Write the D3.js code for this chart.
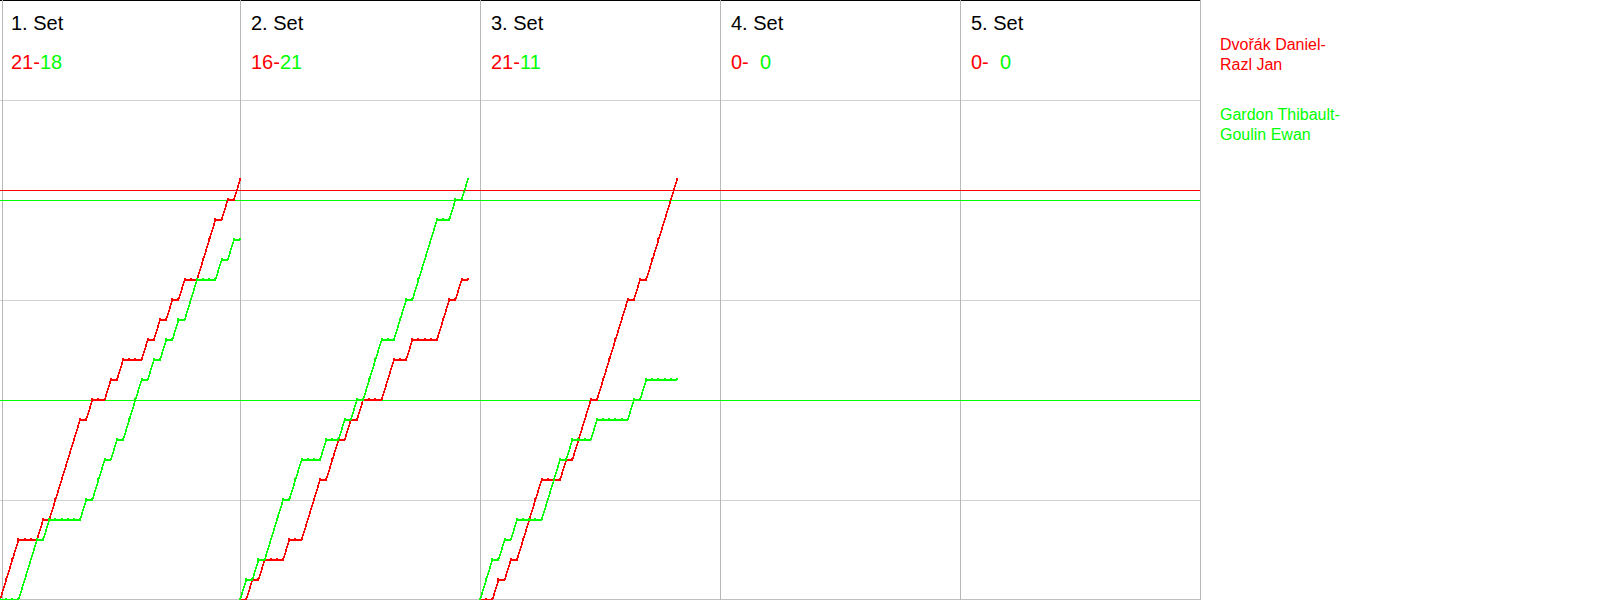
<!DOCTYPE html>
<html>
<head>
<meta charset="utf-8">
<script src="https://cdn.jsdelivr.net/npm/d3@7"></script>
<style>
  html, body { margin: 0; padding: 0; background: #fff; }
  svg { display: block; font-family: "Liberation Sans", Arial, sans-serif; }
</style>
</head>
<body>
<svg id="chart" width="1600" height="600"></svg>
<script>
// ---- data ----
const setTitles = ["1. Set", "2. Set", "3. Set", "4. Set", "5. Set"];
const teamNames = [["Dvořák Daniel-", "Razl Jan"], ["Gardon Thibault-", "Goulin Ewan"]];
const teamColors = ["#ff0000", "#00ff00"];
const finalRed = [21, 16, 21, 0, 0];
const finalGreen = [18, 21, 11, 0, 0];

// cumulative score after each rally (index 0 = start of set)
const set1Red   = [0,1,2,3,3,3,3,4,4,5,6,7,8,9,9,10,10,10,11,11,12,12,12,12,13,13,14,14,15,15,16,16,16,17,18,19,19,20,20,21];
const set1Green = [0,0,0,0,1,2,3,3,4,4,4,4,4,4,5,5,6,7,7,8,8,9,10,11,11,12,12,13,13,14,14,15,16,16,16,16,17,17,18,18];
const set2Red   = [0,0,1,1,2,2,2,2,3,3,3,4,5,6,6,7,8,8,9,9,10,10,10,10,11,12,12,12,13,13,13,13,13,14,15,15,16,16];
const set2Green = [0,1,1,2,2,3,4,5,5,6,7,7,7,7,8,8,8,9,9,10,10,11,12,13,13,13,14,15,15,16,17,18,19,19,19,20,20,21];
const set3Red   = [0,0,0,1,1,2,2,3,4,5,6,6,6,6,7,7,8,9,10,10,11,12,13,14,15,15,16,16,17,18,19,20,21];
const set3Green = [0,1,2,2,3,3,4,4,4,4,4,5,6,7,7,8,8,8,8,9,9,9,9,9,9,10,10,11,11,11,11,11,11];

const redSeries = [set1Red, set2Red, set3Red, [], []];
const greenSeries = [set1Green, set2Green, set3Green, [], []];

// reference lines (score values)
const refLines = [
  { team: 0, value: 20.5 },
  { team: 1, value: 20 },
  { team: 1, value: 10 }
];
const gridScores = [5, 10, 15, 20, 25];

// ---- layout ----
const panelW = 240;
const nPanels = 5;
const plotRight = panelW * nPanels;
const svg = d3.select("#chart");

const y = d3.scaleLinear().domain([0, 30]).range([600, 0]);
const maxRallies = d3.max(redSeries, s => s.length - 1);
const panelX = d3.scaleBand().domain(d3.range(nPanels)).range([0, plotRight]).padding(0);
const xLocal = d3.scaleLinear().domain([0, maxRallies]).range([0, panelW]);

// horizontal grid
svg.append("g").selectAll("line").data(gridScores).join("line")
  .attr("x1", 0).attr("x2", plotRight)
  .attr("y1", d => y(d)).attr("y2", d => y(d))
  .attr("stroke", "#d0d0d0").attr("stroke-width", 1)
  .attr("shape-rendering", "crispEdges");
// bottom line
svg.append("line").attr("x1", 0).attr("x2", plotRight)
  .attr("y1", 599.5).attr("y2", 599.5)
  .attr("stroke", "#c0c0c0").attr("stroke-width", 1);
// top black line
svg.append("line").attr("x1", 0).attr("x2", plotRight)
  .attr("y1", 0.5).attr("y2", 0.5)
  .attr("stroke", "#000").attr("stroke-width", 1);

// vertical panel separators
const vx = d3.range(nPanels + 1).map(i => i === 0 ? 2 : i * panelW);
svg.append("g").selectAll("line").data(vx).join("line")
  .attr("x1", d => d + 0.5).attr("x2", d => d + 0.5)
  .attr("y1", 0).attr("y2", 600)
  .attr("stroke", "#b8b8b8").attr("stroke-width", 1);

// reference lines
svg.append("g").selectAll("line").data(refLines).join("line")
  .attr("x1", 0).attr("x2", plotRight)
  .attr("y1", d => Math.round(y(d.value)) + 0.5).attr("y2", d => Math.round(y(d.value)) + 0.5)
  .attr("stroke", d => teamColors[d.team]).attr("stroke-width", 1.2);

// headers
const headers = svg.append("g").selectAll("g").data(setTitles).join("g")
  .attr("transform", (d, i) => `translate(${panelX(i)},0)`);
headers.append("text").attr("x", 11).attr("y", 30)
  .attr("font-size", 20).attr("fill", "#000").text(d => d);
headers.append("text").attr("x", 11).attr("y", 69)
  .attr("font-size", 20).attr("fill", teamColors[0]).text((d, i) => finalRed[i] + "-");
headers.append("text").attr("x", 40).attr("y", 69)
  .attr("font-size", 20).attr("fill", teamColors[1]).text((d, i) => finalGreen[i]);

// score progression lines
const line = d3.line().x(d => d[0]).y(d => d[1]);
for (let p = 0; p < nPanels; p++) {
  const g = svg.append("g").attr("transform", `translate(${panelX(p)},0)`);
  [redSeries[p], greenSeries[p]].forEach((series, t) => {
    if (!series.length) return;
    const pts = series.map((v, i) => [xLocal(i), y(v)]);
    g.append("path").datum(pts)
      .attr("d", line)
      .attr("fill", "none")
      .attr("stroke", teamColors[t])
      .attr("stroke-width", 1.6)
      .attr("shape-rendering", "crispEdges");
    g.append("g").selectAll("rect").data(pts).join("rect")
      .attr("x", d => Math.round(d[0]) - 1).attr("y", d => d[1] - 2)
      .attr("width", 2).attr("height", 2)
      .attr("fill", teamColors[t])
      .attr("shape-rendering", "crispEdges");
  });
}

// legend
const legend = svg.append("g").selectAll("text").data(teamNames).join("text")
  .attr("x", 1220)
  .attr("y", (d, i) => 50 + i * 70)
  .attr("font-size", 16)
  .attr("fill", (d, i) => teamColors[i]);
legend.selectAll("tspan").data(d => d).join("tspan")
  .attr("x", 1220)
  .attr("dy", (d, j) => j === 0 ? 0 : 19.5)
  .text(d => d);
</script>
</body>
</html>
